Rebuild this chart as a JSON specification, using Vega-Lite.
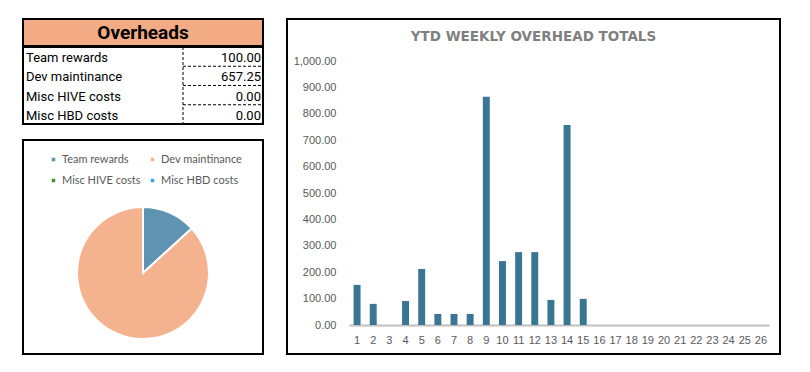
{
  "$schema": "https://vega.github.io/schema/vega-lite/v6.json",
  "padding": {"left": 22, "top": 18, "right": 0, "bottom": 0},
  "background": "white",
  "datasets": {
    "overheads": [
      {"n": 1, "item": "Team rewards", "amount": 100.00},
      {"n": 2, "item": "Dev maintinance", "amount": 657.25},
      {"n": 3, "item": "Misc HIVE costs", "amount": 0.00},
      {"n": 4, "item": "Misc HBD costs", "amount": 0.00}
    ],
    "weekly": [
      {"week": 1, "total": 152}, {"week": 2, "total": 80}, {"week": 3, "total": 0},
      {"week": 4, "total": 91}, {"week": 5, "total": 212}, {"week": 6, "total": 42},
      {"week": 7, "total": 42}, {"week": 8, "total": 42}, {"week": 9, "total": 865},
      {"week": 10, "total": 242}, {"week": 11, "total": 276}, {"week": 12, "total": 276},
      {"week": 13, "total": 95}, {"week": 14, "total": 757.25}, {"week": 15, "total": 99},
      {"week": 16, "total": 0}, {"week": 17, "total": 0}, {"week": 18, "total": 0},
      {"week": 19, "total": 0}, {"week": 20, "total": 0}, {"week": 21, "total": 0},
      {"week": 22, "total": 0}, {"week": 23, "total": 0}, {"week": 24, "total": 0},
      {"week": 25, "total": 0}, {"week": 26, "total": 0}
    ]
  },
  "hconcat": [
    {
      "spacing": 13,
      "vconcat": [
        {
          "spacing": -2,
          "vconcat": [
            {
              "width": 240,
              "height": 27,
              "view": {"fill": "#F2AB84", "stroke": "black", "strokeWidth": 2},
              "data": {"values": [{"heading": "Overheads"}]},
              "mark": {"type": "text", "font": "Roboto", "fontWeight": "bold", "fontSize": 19, "color": "black", "baseline": "middle"},
              "encoding": {"text": {"field": "heading"}}
            },
            {
              "width": 240,
              "height": 77,
              "view": {"stroke": "black", "strokeWidth": 2},
              "data": {"name": "overheads"},
              "layer": [
                {
                  "mark": {"type": "text", "align": "left", "dx": 3, "dy": 1.5, "font": "Roboto", "fontSize": 13, "color": "black"},
                  "encoding": {
                    "y": {"field": "item", "type": "nominal", "sort": null, "scale": {"type": "band", "paddingInner": 0, "paddingOuter": 0}, "axis": null},
                    "x": {"datum": 0, "type": "quantitative", "scale": {"domain": [0, 3]}, "axis": null},
                    "text": {"field": "item"}
                  }
                },
                {
                  "mark": {"type": "text", "align": "right", "dx": -2, "dy": 1.5, "font": "Roboto", "fontSize": 13, "color": "black"},
                  "encoding": {
                    "y": {"field": "item", "type": "nominal", "sort": null},
                    "x": {"datum": 3, "type": "quantitative"},
                    "text": {"field": "amount", "type": "quantitative", "format": ",.2f"}
                  }
                },
                {
                  "transform": [{"filter": "datum.n < 4"}],
                  "mark": {"type": "rule", "color": "black", "strokeWidth": 1, "strokeDash": [3, 2]},
                  "encoding": {
                    "y": {"field": "item", "type": "nominal", "sort": null, "bandPosition": 1},
                    "x": {"datum": 2, "type": "quantitative"},
                    "x2": {"datum": 3}
                  }
                },
                {
                  "data": {"values": [{"sep": 2}]},
                  "mark": {"type": "rule", "color": "black", "strokeWidth": 1, "strokeDash": [3, 2]},
                  "encoding": {
                    "x": {"field": "sep", "type": "quantitative"}
                  }
                }
              ]
            }
          ]
        },
        {
          "width": 240,
          "height": 214,
          "view": {"stroke": "black", "strokeWidth": 2},
          "data": {"name": "overheads"},
          "mark": {"type": "arc", "outerRadius": 66, "yOffset": 26, "stroke": "white", "strokeWidth": 2},
          "encoding": {
            "theta": {"field": "amount", "type": "quantitative", "stack": true},
            "order": {"field": "n", "type": "quantitative"},
            "color": {
              "field": "item",
              "type": "nominal",
              "sort": null,
              "scale": {
                "domain": ["Team rewards", "Dev maintinance", "Misc HIVE costs", "Misc HBD costs"],
                "range": ["#5F93B2", "#F4B38E", "#4E8F3A", "#3FA4D8"]
              },
              "legend": {
                "title": null,
                "orient": "none",
                "legendX": 25,
                "legendY": 135,
                "columns": 2,
                "direction": "horizontal",
                "symbolType": "square",
                "symbolSize": 25,
                "labelFont": "Lato",
                "labelFontSize": 11,
                "labelColor": "#595959",
                "labelOffset": 3,
                "rowPadding": 9,
                "columnPadding": 6
              }
            }
          }
        }
      ]
    },
    {
      "width": 493,
      "height": 335,
      "view": {"stroke": "black", "strokeWidth": 2},
      "title": {
        "text": "YTD WEEKLY OVERHEAD TOTALS",
        "font": "DejaVu Sans",
        "fontWeight": "bold",
        "fontSize": 13.5,
        "color": "#7F7F7F",
        "anchor": "middle",
        "offset": -24
      },
      "data": {"name": "weekly"},
      "mark": {"type": "bar", "color": "#3A7594"},
      "encoding": {
        "x": {
          "field": "week",
          "type": "ordinal",
          "scale": {"range": [62, 482], "paddingInner": 0.57, "paddingOuter": 0.285},
          "axis": {
            "title": null,
            "offset": -29,
            "labelAngle": 0,
            "domainColor": "#BFBFBF",
            "domainWidth": 2,
            "ticks": false,
            "labelPadding": 9,
            "labelColor": "#595959",
            "labelFont": "Liberation Sans",
            "labelFontSize": 11,
            "grid": false
          }
        },
        "y": {
          "field": "total",
          "type": "quantitative",
          "scale": {"domain": [0, 1000], "range": [306, 42], "nice": false},
          "axis": {
            "title": null,
            "offset": -51,
            "values": [0, 100, 200, 300, 400, 500, 600, 700, 800, 900, 1000],
            "format": ",.2f",
            "domain": false,
            "ticks": false,
            "tickSize": 0,
            "labelPadding": 2,
            "labelColor": "#595959",
            "labelFont": "Liberation Sans",
            "labelFontSize": 11,
            "grid": false
          }
        },
        "y2": {"datum": 0}
      }
    }
  ],
  "spacing": 21
}
